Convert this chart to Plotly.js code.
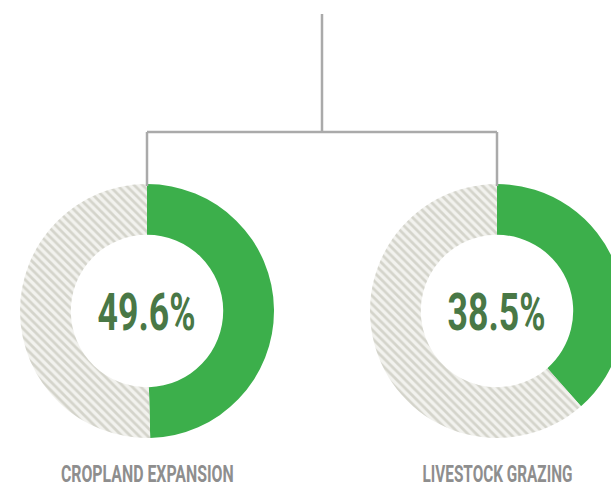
<!DOCTYPE html>
<html>
<head>
<meta charset="utf-8">
<script src="https://cdn.plot.ly/plotly-3.0.1.min.js"></script>
<style>
html,body{margin:0;padding:0;overflow:hidden;background:#fff;width:611px;height:490px;}
#chart{width:640px;height:490px;}
</style>
</head>
<body>
<div id="chart"></div>
<script>
const categories = ["CROPLAND EXPANSION", "LIVESTOCK GRAZING"];
const shares = [49.6, 38.5];
const valueLabels = ["49.6%", "38.5%"];

const W = 640, H = 490;
const centersX = [147, 497];
const centerY = 311;
const R = 127;

const green = "#3caf4b";
const textGreen = "#497846";

const traces = shares.map((v, i) => ({
  type: "pie",
  values: [v, 100 - v],
  labels: ["share", "rest"],
  sort: false,
  direction: "clockwise",
  rotation: 0,
  hole: 0.6,
  textinfo: "none",
  hoverinfo: "skip",
  showlegend: false,
  marker: {
    colors: [green, "#f2f2ee"],
    line: {width: 0},
    pattern: {
      shape: ["", "\\"],
      fillmode: "replace",
      bgcolor: [green, "#f2f2ee"],
      fgcolor: ["#d4d4cb", "#d4d4cb"],
      size: 6,
      solidity: 0.45
    }
  },
  domain: {
    x: [(centersX[i] - R) / W, (centersX[i] + R) / W],
    y: [(H - centerY - R) / H, (H - centerY + R) / H]
  }
}));

const annotations = [];
const targetWidths = [];
shares.forEach((v, i) => {
  annotations.push({
    xref: "paper", yref: "paper",
    x: (centersX[i] - 1) / W, y: (H - 312) / H,
    text: "<b>" + valueLabels[i] + "</b>",
    showarrow: false,
    font: {family: "Roboto, sans-serif", size: 52, color: textGreen},
    xanchor: "center", yanchor: "middle"
  });
  targetWidths.push(98);
  annotations.push({
    xref: "paper", yref: "paper",
    x: (centersX[i]) / W, y: 0.003,
    text: "<b>" + categories[i] + "</b>",
    showarrow: false,
    font: {family: "Roboto, sans-serif", size: 23, color: "#8e8e8e"},
    xanchor: "center", yanchor: "bottom",
    borderpad: 0
  });
  targetWidths.push(i === 0 ? 173 : 150);
});

const lineStyle = {color: "#aaaaaa", width: 2.5};
const px = x => x / W, py = y => (H - y) / H;
const shapes = [
  {type: "line", xref: "paper", yref: "paper", x0: px(322), x1: px(322), y0: py(14), y1: py(132), line: lineStyle},
  {type: "line", xref: "paper", yref: "paper", x0: px(147), x1: px(497), y0: py(132), y1: py(132), line: lineStyle},
  {type: "line", xref: "paper", yref: "paper", x0: px(147), x1: px(147), y0: py(132), y1: py(186), line: lineStyle},
  {type: "line", xref: "paper", yref: "paper", x0: px(497), x1: px(497), y0: py(132), y1: py(186), line: lineStyle}
];

Plotly.newPlot("chart", traces, {
  width: W, height: H,
  margin: {l: 0, r: 0, t: 0, b: 0},
  paper_bgcolor: "#ffffff",
  plot_bgcolor: "#ffffff",
  annotations: annotations,
  shapes: shapes
}, {staticPlot: true}).then(gd => {
  // condense the annotation text horizontally to mimic the condensed typeface
  const texts = gd.querySelectorAll(".annotation-text");
  texts.forEach((t, k) => {
    const w = t.getBBox().width;
    const s = w > 0 ? targetWidths[k] / w : 1;
    t.style.transformBox = "fill-box";
    t.style.transformOrigin = "center";
    t.style.transform = "scaleX(" + s.toFixed(3) + ")";
  });
});
</script>
</body>
</html>
